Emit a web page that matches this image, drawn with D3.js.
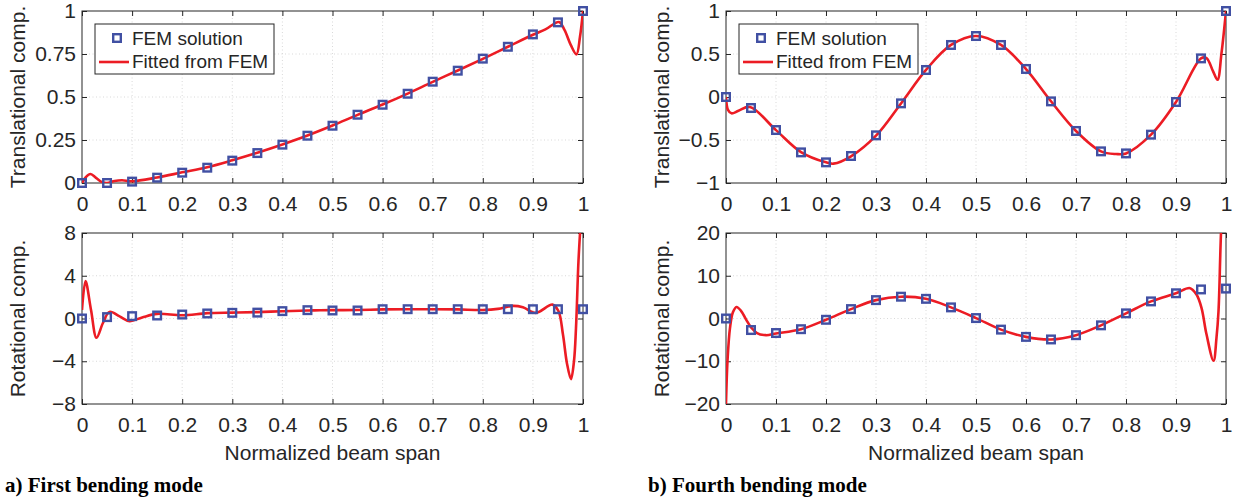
<!DOCTYPE html>
<html>
<head>
<meta charset="utf-8">
<script src="https://cdn.jsdelivr.net/npm/d3@7"></script>
<style>
  body { margin: 0; background: #fff; }
  svg { display: block; }
</style>
</head>
<body>
<div id="chart"></div>
<script>
// FEM sample positions along the span
const spanX = [0, 0.05, 0.1, 0.15, 0.2, 0.25, 0.3, 0.35, 0.4, 0.45, 0.5, 0.55, 0.6, 0.65, 0.7, 0.75, 0.8, 0.85, 0.9, 0.95, 1];

// a) first bending mode, FEM points
const femTransA = [0, 0, 0.008, 0.031, 0.06, 0.089, 0.13, 0.174, 0.223, 0.275, 0.333, 0.397, 0.455, 0.519, 0.589, 0.653, 0.723, 0.792, 0.864, 0.934, 1.0];
const femRotA = [0, 0.13, 0.22, 0.28, 0.37, 0.47, 0.53, 0.55, 0.69, 0.78, 0.75, 0.75, 0.87, 0.87, 0.87, 0.87, 0.87, 0.87, 0.87, 0.87, 0.87];

// b) fourth bending mode, FEM points
const femTransB = [0, -0.128, -0.384, -0.644, -0.76, -0.686, -0.446, -0.074, 0.314, 0.605, 0.709, 0.605, 0.326, -0.051, -0.395, -0.632, -0.656, -0.438, -0.058, 0.449, 1.0];
const femRotB = [0, -2.7, -3.4, -2.5, -0.3, 2.2, 4.3, 5.1, 4.6, 2.6, 0.1, -2.6, -4.3, -4.9, -3.9, -1.6, 1.2, 4.0, 5.9, 6.8, 7.0];

// fitted curves
const fitTransAx = [0, 0.008, 0.017, 0.028, 0.04, 0.05, 0.065, 0.08, 0.1, 0.15, 0.2, 0.25, 0.3, 0.35, 0.4, 0.45, 0.5, 0.55, 0.6, 0.65, 0.7, 0.75, 0.8, 0.85, 0.9, 0.925, 0.952, 0.963, 0.976, 0.987, 0.994, 1];
const fitTransAy = [0, 0.035, 0.052, 0.03, 0.005, 0.0, 0.012, 0.016, 0.01, 0.032, 0.062, 0.092, 0.132, 0.176, 0.224, 0.276, 0.334, 0.396, 0.456, 0.52, 0.588, 0.654, 0.722, 0.792, 0.862, 0.893, 0.936, 0.89, 0.8, 0.748, 0.85, 1.0];

const fitRotAx = [0, 0.007, 0.018, 0.029, 0.042, 0.055, 0.075, 0.095, 0.12, 0.15, 0.2, 0.25, 0.3, 0.35, 0.4, 0.45, 0.5, 0.55, 0.6, 0.65, 0.7, 0.75, 0.8, 0.83, 0.86, 0.88, 0.906, 0.939, 0.951, 0.96, 0.968, 0.976, 0.982, 0.986, 0.991, 0.996, 1.0];
const fitRotAy = [0.8, 3.5, 0.8, -1.8, -0.4, 0.62, 0.2, -0.25, 0.1, 0.43, 0.3, 0.5, 0.55, 0.6, 0.68, 0.75, 0.78, 0.8, 0.85, 0.87, 0.87, 0.85, 0.8, 0.9, 1.18, 1.05, 0.53, 1.3, 0.7, -1.5, -4.2, -5.67, -4.0, -0.9, 5.4, 9.5, 13];

const fitTransBx = [0, 0.004, 0.011, 0.025, 0.048, 0.1, 0.15, 0.2, 0.215, 0.25, 0.3, 0.35, 0.4, 0.45, 0.5, 0.55, 0.6, 0.65, 0.7, 0.75, 0.78, 0.8, 0.85, 0.9, 0.95, 0.961, 0.974, 0.983, 0.991, 1.0];
const fitTransBy = [0, -0.15, -0.19, -0.16, -0.116, -0.385, -0.64, -0.76, -0.775, -0.69, -0.45, -0.075, 0.315, 0.605, 0.71, 0.605, 0.325, -0.05, -0.395, -0.632, -0.663, -0.656, -0.438, -0.058, 0.449, 0.453, 0.3, 0.2, 0.51, 1.0];

const fitRotBx = [0, 0.003, 0.008, 0.014, 0.021, 0.03, 0.04, 0.051, 0.062, 0.08, 0.1, 0.15, 0.2, 0.25, 0.3, 0.35, 0.4, 0.45, 0.5, 0.55, 0.6, 0.65, 0.7, 0.75, 0.8, 0.85, 0.9, 0.928, 0.941, 0.951, 0.961, 0.975, 0.981, 0.985, 0.99, 1.0];
const fitRotBy = [-20, -9.9, -2.2, 1.5, 2.7, 1.8, -0.2, -2.2, -3.4, -3.9, -3.5, -2.5, -0.3, 2.2, 4.3, 5.1, 4.6, 2.6, 0.1, -2.6, -4.3, -4.9, -3.9, -1.6, 1.2, 4.0, 5.9, 7.1, 5.6, 2.5, -3.7, -9.9, -4.5, 1.7, 20, 45];

// ticks
const xTicks = [0, 0.1, 0.2, 0.3, 0.4, 0.5, 0.6, 0.7, 0.8, 0.9, 1];
const yTicksTransA = [0, 0.25, 0.5, 0.75, 1];
const yTicksRotA = [-8, -4, 0, 4, 8];
const yTicksTransB = [-1, -0.5, 0, 0.5, 1];
const yTicksRotB = [-20, -10, 0, 10, 20];

const legendLabels = ["FEM solution", "Fitted from FEM"];
const captions = ["a) First bending mode", "b) Fourth bending mode"];

const width = 1234;
const height = 504;
const axisColor = "#262626";
const markerColor = "#4150a3";
const lineColor = "#ec1c24";
const fontSans = "'Liberation Sans', Arial, Helvetica, sans-serif";

const svg = d3
  .select("#chart")
  .append("svg")
  .attr("width", width)
  .attr("height", height);

let clipId = 0;

const drawPanel = (opts) => {
  const { left, right, top, bottom, yDomain, yTicks, femY, fitX, fitY, yLabel, labelX, showXLabel, legend } = opts;

  const x = d3.scaleLinear().domain([0, 1]).range([left, right]);
  const y = d3.scaleLinear().domain(yDomain).range([bottom, top]);
  const fmt = d3.format("~g");

  const g = svg.append("g");

  // dotted grid
  g.append("g")
    .selectAll("line")
    .data(xTicks.slice(1, -1))
    .enter()
    .append("line")
    .attr("x1", (d) => x(d))
    .attr("x2", (d) => x(d))
    .attr("y1", top)
    .attr("y2", bottom)
    .attr("stroke", "#cfcfcf")
    .attr("stroke-width", 0.8)
    .attr("stroke-dasharray", "1,2.5");

  g.append("g")
    .selectAll("line")
    .data(yTicks.slice(1, -1))
    .enter()
    .append("line")
    .attr("x1", left)
    .attr("x2", right)
    .attr("y1", (d) => y(d))
    .attr("y2", (d) => y(d))
    .attr("stroke", "#cfcfcf")
    .attr("stroke-width", 0.8)
    .attr("stroke-dasharray", "1,2.5");

  // axes, ticks pointing inwards on all four sides
  const styleAxis = (sel) => {
    sel.select(".domain").remove();
    sel.selectAll(".tick line").attr("stroke", axisColor);
    sel.selectAll("text")
      .attr("fill", axisColor)
      .style("font-family", fontSans)
      .style("font-size", "21px");
  };

  g.append("g")
    .attr("transform", `translate(0,${bottom})`)
    .call(d3.axisBottom(x).tickValues(xTicks).tickFormat(fmt).tickSize(-5).tickPadding(13))
    .call(styleAxis);

  g.append("g")
    .attr("transform", `translate(0,${top})`)
    .call(d3.axisTop(x).tickValues(xTicks).tickFormat("").tickSize(-5))
    .call(styleAxis);

  g.append("g")
    .attr("transform", `translate(${left},0)`)
    .call(d3.axisLeft(y).tickValues(yTicks).tickFormat(fmt).tickSize(-5).tickPadding(6))
    .call(styleAxis);

  g.append("g")
    .attr("transform", `translate(${right},0)`)
    .call(d3.axisRight(y).tickValues(yTicks).tickFormat("").tickSize(-5))
    .call(styleAxis);

  g.append("rect")
    .attr("x", left)
    .attr("y", top)
    .attr("width", right - left)
    .attr("height", bottom - top)
    .attr("fill", "none")
    .attr("stroke", axisColor)
    .attr("stroke-width", 1);

  // fitted curve, clipped to the axes box
  clipId += 1;
  svg.append("clipPath")
    .attr("id", "clip" + clipId)
    .append("rect")
    .attr("x", left)
    .attr("y", top)
    .attr("width", right - left)
    .attr("height", bottom - top);

  const line = d3
    .line()
    .x((d) => x(d[0]))
    .y((d) => y(d[1]))
    .curve(d3.curveCatmullRom.alpha(0.5));

  g.append("path")
    .attr("clip-path", `url(#clip${clipId})`)
    .attr("d", line(d3.zip(fitX, fitY)))
    .attr("fill", "none")
    .attr("stroke", lineColor)
    .attr("stroke-width", 2.6)
    .attr("stroke-linejoin", "round");

  // FEM markers
  g.append("g")
    .selectAll("rect")
    .data(d3.zip(spanX, femY))
    .enter()
    .append("rect")
    .attr("x", (d) => x(d[0]) - 3.8)
    .attr("y", (d) => y(d[1]) - 3.8)
    .attr("width", 7.6)
    .attr("height", 7.6)
    .attr("fill", "none")
    .attr("stroke", markerColor)
    .attr("stroke-width", 2.4);

  // y label
  g.append("text")
    .attr("transform", `translate(${labelX},${(top + bottom) / 2}) rotate(-90)`)
    .attr("text-anchor", "middle")
    .attr("fill", axisColor)
    .style("font-family", fontSans)
    .style("font-size", "21px")
    .text(yLabel);

  if (showXLabel) {
    g.append("text")
      .attr("x", (left + right) / 2)
      .attr("y", 460)
      .attr("text-anchor", "middle")
      .attr("fill", axisColor)
      .style("font-family", fontSans)
      .style("font-size", "21px")
      .text("Normalized beam span");
  }

  if (legend) {
    const lx = left + 13;
    const ly = top + 13;
    const lg = g.append("g");
    lg.append("rect")
      .attr("x", lx)
      .attr("y", ly)
      .attr("width", 179)
      .attr("height", 50)
      .attr("fill", "#fff")
      .attr("stroke", axisColor)
      .attr("stroke-width", 1);
    lg.append("rect")
      .attr("x", lx + 22 - 3.8)
      .attr("y", ly + 14 - 3.8)
      .attr("width", 7.6)
      .attr("height", 7.6)
      .attr("fill", "none")
      .attr("stroke", markerColor)
      .attr("stroke-width", 2.4);
    lg.append("line")
      .attr("x1", lx + 4)
      .attr("x2", lx + 34)
      .attr("y1", ly + 38)
      .attr("y2", ly + 38)
      .attr("stroke", lineColor)
      .attr("stroke-width", 2.6);
    lg.selectAll("text")
      .data(legendLabels)
      .enter()
      .append("text")
      .attr("x", lx + 37)
      .attr("y", (d, i) => ly + 21 + i * 23)
      .attr("fill", axisColor)
      .style("font-family", fontSans)
      .style("font-size", "19px")
      .text((d) => d);
  }
};

const panels = [
  { left: 82, right: 583, top: 11, bottom: 183, yDomain: [0, 1], yTicks: yTicksTransA, femY: femTransA, fitX: fitTransAx, fitY: fitTransAy, yLabel: "Translational comp.", labelX: 25, legend: true },
  { left: 82, right: 583, top: 233, bottom: 404, yDomain: [-8, 8], yTicks: yTicksRotA, femY: femRotA, fitX: fitRotAx, fitY: fitRotAy, yLabel: "Rotational comp.", labelX: 25, showXLabel: true },
  { left: 726, right: 1226, top: 11, bottom: 183, yDomain: [-1, 1], yTicks: yTicksTransB, femY: femTransB, fitX: fitTransBx, fitY: fitTransBy, yLabel: "Translational comp.", labelX: 669, legend: true },
  { left: 726, right: 1226, top: 233, bottom: 404, yDomain: [-20, 20], yTicks: yTicksRotB, femY: femRotB, fitX: fitRotBx, fitY: fitRotBy, yLabel: "Rotational comp.", labelX: 669, showXLabel: true },
];

panels.forEach(drawPanel);

// sub-figure captions
svg.selectAll(".caption")
  .data(captions)
  .enter()
  .append("text")
  .attr("class", "caption")
  .attr("x", (d, i) => (i === 0 ? 5 : 648))
  .attr("y", 492)
  .attr("fill", "#000")
  .style("font-family", "'Liberation Serif', 'Times New Roman', serif")
  .style("font-weight", "bold")
  .style("font-size", "21px")
  .text((d) => d);
</script>
</body>
</html>
